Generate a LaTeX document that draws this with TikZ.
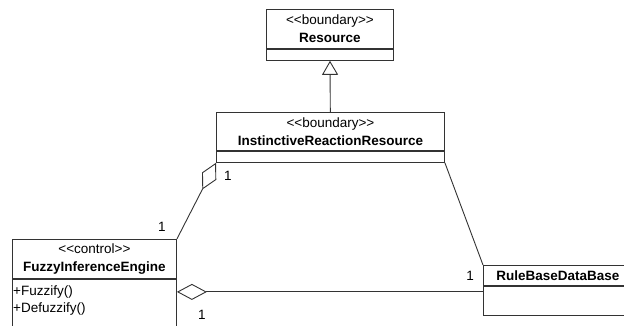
\documentclass[tikz,border=0pt]{standalone}
\usepackage{fontspec}
\setmainfont{Liberation Sans}
\usetikzlibrary{arrows.meta,positioning,calc}

\newcommand{\stereo}[1]{<\kern0pt<#1>\kern0pt>}

\begin{document}
\begin{tikzpicture}[x=1pt,y=-1pt,
  every node/.style={font=\fontsize{13.5}{18}\selectfont},
  classhead/.style={draw=black!80, line width=0.9pt, inner sep=0pt, align=center, anchor=north west},
  compart/.style={draw=black!80, line width=0.9pt, inner sep=0pt},
  opslist/.style={anchor=north west, align=left, inner xsep=1pt, inner ysep=7pt,
    font=\fontsize{13.5}{17}\selectfont},
  mult/.style={inner sep=0pt},
  general/.style={draw=black!80, line width=0.9pt, -{Triangle[open,length=14,width=16]}},
  aggreg/.style={draw=black!80, line width=0.9pt, {Diamond[open,length=30,width=16]}-},
  assoc/.style={draw=black!80, line width=0.9pt}]
  \useasboundingbox (0,0) rectangle (624,326);
  \clip (0,0) rectangle (624,326);
  % Resource
  \node[classhead, minimum width=127, minimum height=39] (resname) at (266,9)
    {\stereo{boundary}\\\textbf{Resource}};
  \node[compart, minimum width=127, minimum height=11, below=0pt of resname] (resattr) {};
  % InstinctiveReactionResource
  \node[classhead, minimum width=228, minimum height=38] (irrname) at (216,112)
    {\stereo{boundary}\\\textbf{InstinctiveReactionResource}};
  \node[compart, minimum width=228, minimum height=11, below=0pt of irrname] (irrattr) {};
  % FuzzyInferenceEngine
  \node[classhead, minimum width=164, minimum height=39] (fiename) at (12,239)
    {\stereo{control}\\\textbf{FuzzyInferenceEngine}};
  \node[compart, minimum width=164, minimum height=60, below=0pt of fiename] (fieops) {};
  \node[opslist] (fieopslist) at (fieops.north west) {+Fuzzify()\\+Defuzzify()};
  % RuleBaseDataBase
  \node[classhead, minimum width=149, minimum height=20] (rbname) at (483,265)
    {\textbf{RuleBaseDataBase}};
  \node[compart, minimum width=149, minimum height=29, below=0pt of rbname] (rbattr) {};
  % connectors
  \coordinate (fieagg) at ($(fieops.north east)+(0,13)$);
  \draw[general] (irrname) -- (resattr);
  \draw[aggreg] (irrattr.south west) -- (fiename.north east);
  \draw[aggreg] (fieagg) -- (fieagg -| rbattr.west);
  \draw[assoc] (irrattr.south east) -- (rbname.north west);
  % multiplicities
  \node[mult] (multirr) at (228,176) {1};
  \node[mult] (multfie) at (162,227) {1};
  \node[mult] (multrb) at (470,276) {1};
  \node[mult] (multfieagg) at (202,315) {1};
\end{tikzpicture}
\end{document}
